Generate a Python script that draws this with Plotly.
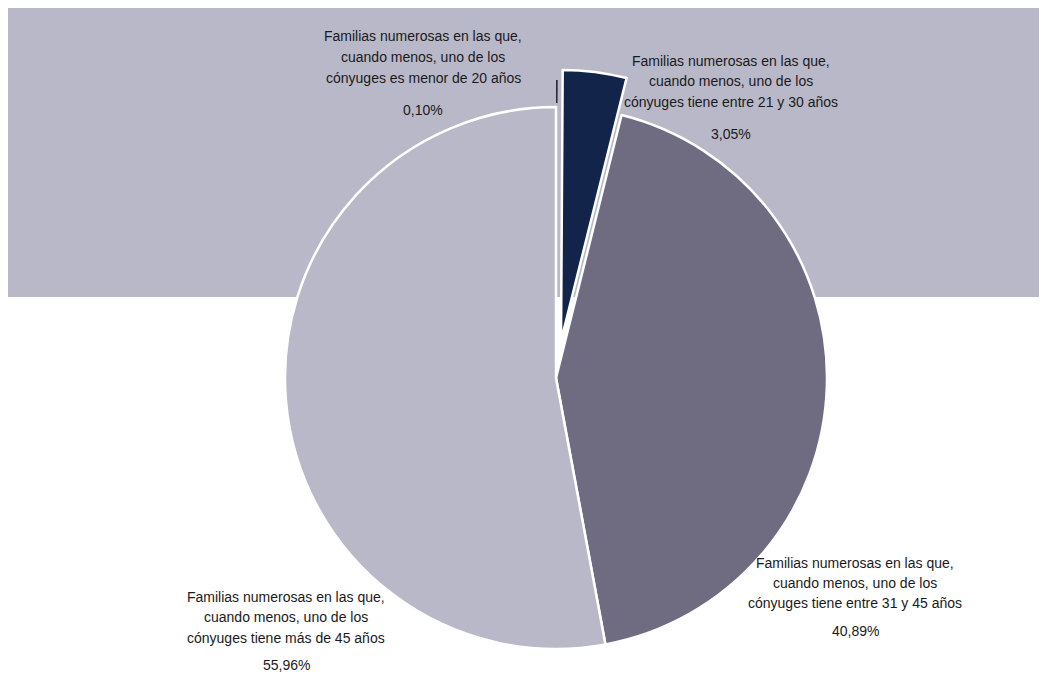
import plotly.graph_objects as go

# ---- data ----
categories = ["Menor de 20 años", "Entre 21 y 30 años", "Entre 31 y 45 años", "Más de 45 años"]
# angular share of each slice as drawn in the picture
slice_values = [0.10, 3.79, 43.19, 52.92]
# printed label texts
name_labels = [
    "Familias numerosas en las que,<br>cuando menos, uno de los<br>cónyuges es menor de 20 años",
    "Familias numerosas en las que,<br>cuando menos, uno de los<br>cónyuges tiene entre 21 y 30 años",
    "Familias numerosas en las que,<br>cuando menos, uno de los<br>cónyuges tiene entre 31 y 45 años",
    "Familias numerosas en las que,<br>cuando menos, uno de los<br>cónyuges tiene más de 45 años",
]
pct_labels = ["0,10%", "3,05%", "40,89%", "55,96%"]
slice_colors = ["#2b2b33", "#13244b", "#6f6c82", "#b9b8c9"]

# ---- layout geometry (pixels, page has an 8px body margin) ----
OFF = 8
W, H = 1047 - OFF, 674 - OFF
R = 271
CX, CY = 556 - OFF, 378 - OFF
# exploded slices: centre offsets (px)
offsets = {0: (0, -27), 1: (5, -37)}
holes = {0: 0.915, 1: 0.0}
label_pos = [  # (x centre, [line y...], pct y) in reference pixels
    (423, [36, 57, 78], 110),
    (731, [61, 81, 102], 134),
    (855, [563, 583, 603], 631),
    (286, [597, 617, 638], 665),
]

TRANSPARENT = "rgba(0,0,0,0)"


def domain(cx, cy, r):
    return dict(x=[(cx - r) / W, (cx + r) / W], y=[1 - (cy + r) / H, 1 - (cy - r) / H])


fig = go.Figure()

# main pie (the two large slices)
main_colors = [TRANSPARENT, TRANSPARENT, slice_colors[2], slice_colors[3]]
main_lw = [0, 0, 2.5, 2.5]
fig.add_trace(go.Pie(
    labels=categories, values=slice_values, sort=False, direction="clockwise", rotation=0,
    marker=dict(colors=main_colors, line=dict(color="white", width=main_lw)),
    textinfo="none", hoverinfo="skip", showlegend=False,
    domain=domain(CX, CY, R),
))

# exploded slices, each drawn as its own trace shifted outward
for idx in [0, 1]:
    cols = [TRANSPARENT] * len(categories)
    cols[idx] = slice_colors[idx]
    lw = [0] * len(categories)
    if idx == 1:
        lw[idx] = 2.5
    dx, dy = offsets[idx]
    fig.add_trace(go.Pie(
        labels=categories, values=slice_values, sort=False, direction="clockwise", rotation=0,
        hole=holes[idx],
        marker=dict(colors=cols, line=dict(color="white", width=lw)),
        textinfo="none", hoverinfo="skip", showlegend=False,
        domain=domain(CX + dx, CY + dy, R),
    ))

annotations = []
font = dict(family="Liberation Sans, Arial, sans-serif", size=14, color="#1a1a1a")
for (x, ys, py), name, pct in zip(label_pos, name_labels, pct_labels):
    for line, y in zip(name.split("<br>"), ys):
        annotations.append(dict(
            x=(x - OFF) / W, y=1 - (y - OFF) / H, xref="paper", yref="paper", text=line,
            showarrow=False, xanchor="center", yanchor="middle", font=font,
        ))
    annotations.append(dict(
        x=(x - OFF) / W, y=1 - (py - OFF) / H, xref="paper", yref="paper", text=pct,
        showarrow=False, xanchor="center", yanchor="middle", font=font,
    ))

fig.update_layout(
    width=W, height=H,
    margin=dict(l=0, r=0, t=0, b=0),
    paper_bgcolor="white", plot_bgcolor="white",
    shapes=[dict(type="rect", xref="paper", yref="paper",
                 x0=0, x1=1, y0=1 - (297 - OFF) / H, y1=1,
                 fillcolor="#b9b8c9", line=dict(width=0), layer="below")],
    annotations=annotations,
)

fig.write_html("out.html")
